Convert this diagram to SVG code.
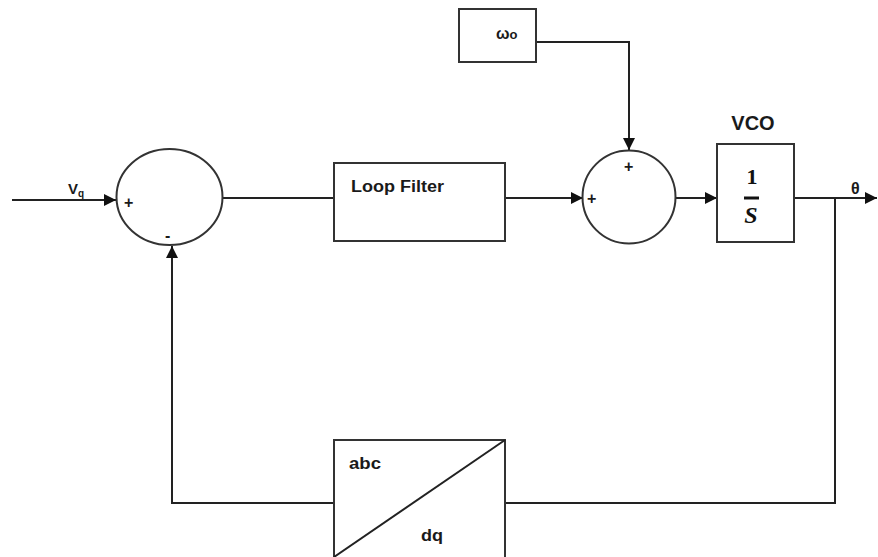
<svg xmlns="http://www.w3.org/2000/svg" width="878" height="557" viewBox="0 0 878 557">
<defs>
<style>
.ln{fill:none;stroke:#222;stroke-width:2}
.bx{fill:#fff;stroke:#333;stroke-width:2}
.t{font-family:"Liberation Sans",Arial,sans-serif;font-weight:bold;fill:#1a1a1a}
.s{font-family:"Liberation Sans",Arial,sans-serif;font-weight:bold;fill:#1a1a1a;font-size:16px}
</style>
<marker id="ar2" viewBox="0 0 10 10" refX="10" refY="5" markerWidth="12" markerHeight="12" orient="auto" markerUnits="userSpaceOnUse">
<path d="M0,0 L10,5 L0,10 z" fill="#111"/>
</marker>
</defs>
<rect width="878" height="557" fill="#fff"/>
<g id="connectors">
<line class="ln" x1="12" y1="200" x2="116" y2="200" marker-end="url(#ar2)"/>
<line class="ln" x1="223" y1="198" x2="334" y2="198"/>
<line class="ln" x1="505" y1="198" x2="583" y2="198" marker-end="url(#ar2)"/>
<polyline class="ln" points="536,42 629,42 629,150" marker-end="url(#ar2)"/>
<line class="ln" x1="676" y1="198" x2="717" y2="198" marker-end="url(#ar2)"/>
<line class="ln" x1="794" y1="198" x2="877" y2="198" marker-end="url(#ar2)"/>
<polyline class="ln" points="835,198 835,503 505,503"/>
<polyline class="ln" points="334,503 172,503 172,246" marker-end="url(#ar2)"/>
</g>
<g id="sum1">
<ellipse class="bx" cx="169.5" cy="197" rx="53" ry="48"/>
<text class="s" x="124" y="208">+</text>
<text class="s" x="165" y="241">-</text>
</g>
<g id="vq">
<text class="t" x="68" y="194" font-size="15">V<tspan font-size="10" dy="3">q</tspan></text>
</g>
<g id="loopfilter">
<rect class="bx" x="334" y="163" width="171" height="78"/>
<text class="t" x="351" y="192" font-size="16" textLength="93" lengthAdjust="spacingAndGlyphs">Loop Filter</text>
</g>
<g id="omega">
<rect class="bx" x="459" y="9" width="77" height="53"/>
<text class="t" x="496" y="39" font-size="16">ω<tspan font-size="13">o</tspan></text>
</g>
<g id="sum2">
<circle class="bx" cx="629" cy="197" r="46.5"/>
<text class="s" x="587" y="204">+</text>
<text class="s" x="624" y="172">+</text>
</g>
<g id="vco">
<text class="t" x="753" y="130" font-size="20" text-anchor="middle">VCO</text>
<rect class="bx" x="717" y="144" width="77" height="98"/>
<text x="752" y="184" font-family="'Liberation Serif','DejaVu Serif',serif" font-weight="bold" font-size="22" text-anchor="middle" fill="#111">1</text>
<line x1="744" y1="198" x2="759" y2="198" stroke="#111" stroke-width="3"/>
<text x="751" y="223" font-family="'Liberation Serif','DejaVu Serif',serif" font-style="italic" font-weight="bold" font-size="24" text-anchor="middle" fill="#111">S</text>
</g>
<g id="theta">
<text class="t" x="851" y="194" font-size="16">θ</text>
</g>
<g id="abcdq">
<rect class="bx" x="334" y="440" width="171" height="122"/>
<line class="ln" x1="334" y1="557" x2="505" y2="440"/>
<text class="t" x="349" y="469" font-size="16" textLength="32" lengthAdjust="spacingAndGlyphs">abc</text>
<text class="t" x="421" y="541" font-size="16" textLength="22" lengthAdjust="spacingAndGlyphs">dq</text>
</g>
</svg>
